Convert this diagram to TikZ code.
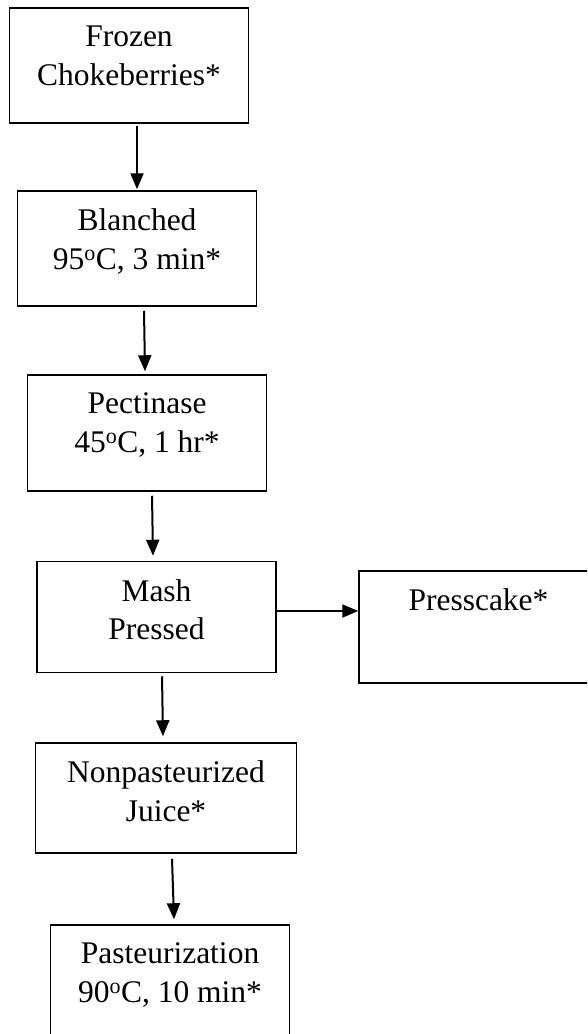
\documentclass[tikz,border=0pt]{standalone}
\usepackage{fontspec}
\setmainfont{Liberation Serif}
\usetikzlibrary{arrows.meta,positioning}

\tikzset{
  stage/.style={draw, line width=1.5pt, minimum width=239pt, inner sep=0pt},
  stagetext/.style={align=center, inner sep=0pt, font=\fontsize{31.5pt}{38.5pt}\selectfont},
  flow/.style={line width=2pt, -{Triangle[length=16pt,width=13pt]}}
}
\newcommand{\degC}{\textsuperscript{o}C}

\begin{document}
\begin{tikzpicture}[x=1pt,y=-1pt]
  \useasboundingbox (0,0) rectangle (587,1034);
  \clip (0,0) rectangle (587,1034);

  % process boxes
  \node[stage, minimum height=115pt] (frozen) at (129,65.5) {};
  \node[stage, minimum height=115pt] (blanched) at (137,248.5) {};
  \node[stage, minimum height=116pt] (pectinase) at (147,433) {};
  \node[stage, minimum height=111pt] (mash) at (156.5,617) {};
  \node[stage, minimum height=112pt] (presscake) at (478.5,627) {};
  \node[stage, minimum width=261pt, minimum height=110pt] (juice) at (166,798) {};
  \node[stage, minimum height=115pt] (pasteur) at (170,982.5) {};

  % texts, top of each box
  \node[stagetext, below=18.5pt of frozen.north] (frozentext) {Frozen\\Chokeberries*};
  \node[stagetext, below=18.5pt of blanched.north] (blanchedtext) {Blanched\\95\degC, 3 min*};
  \node[stagetext, below=18.5pt of pectinase.north] (pectinasetext) {Pectinase\\45\degC, 1 hr*};
  \node[stagetext, below=18.5pt of mash.north] (mashtext) {Mash\\Pressed};
  \node[stagetext, below=18.5pt of presscake.north] (presscaketext) {Presscake*};
  \node[stagetext, below=18.5pt of juice.north] (juicetext) {Nonpasteurized\\Juice*};
  \node[stagetext, below=18.5pt of pasteur.north] (pasteurtext) {Pasteurization\\90\degC, 10 min*};

  % arrows
  \draw[flow] ([xshift=8pt,yshift=-2pt]frozen.south) -- ([yshift=1pt]blanched.north);
  \draw[flow] ([xshift=7pt,yshift=-4pt]blanched.south) -- ([xshift=-2pt,yshift=3pt]pectinase.north);
  \draw[flow] ([xshift=5pt,yshift=-4pt]pectinase.south) -- ([xshift=-3.5pt,yshift=5pt]mash.north);
  \draw[flow] ([xshift=5.5pt,yshift=-3pt]mash.south) -- ([xshift=-3pt,yshift=6pt]juice.north);
  \draw[flow] ([xshift=6pt,yshift=-5pt]juice.south) -- ([xshift=4pt,yshift=5pt]pasteur.north);
  \draw[flow] ([yshift=6pt]mash.east) -- ([yshift=16pt]presscake.west);
\end{tikzpicture}
\end{document}
